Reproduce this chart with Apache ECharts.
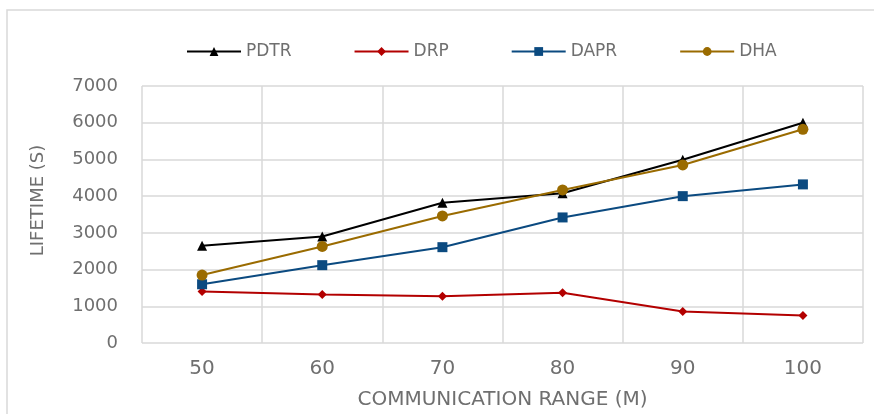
<!DOCTYPE html>
<html>
<head>
<meta charset="utf-8">
<script src="https://cdn.jsdelivr.net/npm/echarts@6/dist/echarts.min.js"></script>
<style>
html,body{margin:0;padding:0;background:#fff;}
#chart{width:874px;height:414px;}
</style>
</head>
<body>
<div id="chart"></div>
<script>
const categories = ['50', '60', '70', '80', '90', '100'];
const seriesNames = ['PDTR', 'DRP', 'DAPR', 'DHA'];
const pdtr = [2650, 2900, 3820, 4080, 4990, 6000];
const drp = [1400, 1320, 1270, 1370, 860, 750];
const dapr = [1600, 2120, 2610, 3420, 4000, 4320];
const dha = [1850, 2630, 3460, 4170, 4850, 5820];
const yTicks = [0, 1000, 2000, 3000, 4000, 5000, 6000, 7000];
const xTitle = 'COMMUNICATION RANGE (M)';
const yTitle = 'LIFETIME (S)';

const colors = ['#000000', '#b30000', '#0b4a80', '#9a6b00'];
const symbols = ['triangle', 'diamond', 'rect', 'circle'];
const symbolSizes = [10, 9, 10, 11];
const values = [pdtr, drp, dapr, dha];

const font = 'DejaVu Sans';
const gray = '#6f6f6f';

const chart = echarts.init(document.getElementById('chart'));
chart.setOption({
  animation: false,
  backgroundColor: '#fff',
  graphic: [{
    type: 'rect',
    shape: {x: 7, y: 10, width: 900, height: 500},
    style: {fill: 'none', stroke: '#d9d9d9', lineWidth: 1.5},
    silent: true, z: -10
  }],
  legend: {
    left: 181,
    top: 38,
    itemWidth: 54,
    itemHeight: 11,
    itemGap: 62,
    textStyle: {fontFamily: font, fontSize: 17, color: gray},
    data: seriesNames
  },
  grid: {left: 142, right: 11, top: 86, bottom: 71, containLabel: false, outerBoundsMode: 'none'},
  xAxis: {
    type: 'category',
    data: categories,
    boundaryGap: true,
    name: xTitle,
    nameLocation: 'middle',
    nameGap: 47,
    nameTextStyle: {fontFamily: font, fontSize: 20, color: gray},
    axisLine: {show: false},
    axisTick: {show: false},
    axisLabel: {fontFamily: font, fontSize: 20, color: gray, margin: 16},
    splitLine: {show: true, lineStyle: {color: '#d9d9d9', width: 1.5}}
  },
  yAxis: {
    type: 'value',
    min: 0,
    max: 7000,
    interval: 1000,
    name: yTitle,
    nameLocation: 'middle',
    nameGap: 95,
    nameRotate: 90,
    nameTextStyle: {fontFamily: font, fontSize: 18, color: gray, padding: [0, 0, 0, 28]},
    axisLine: {show: false},
    axisTick: {show: false},
    axisLabel: {fontFamily: font, fontSize: 18, color: gray, margin: 24,
      formatter: function (v) { return yTicks.indexOf(v) >= 0 ? String(v) : ''; }},
    splitLine: {show: true, lineStyle: {color: '#d9d9d9', width: 1.5}}
  },
  series: seriesNames.map(function (name, i) {
    return {
      name: name,
      type: 'line',
      data: values[i],
      color: colors[i],
      symbol: symbols[i],
      symbolSize: symbolSizes[i],
      lineStyle: {width: 2, color: colors[i]},
      itemStyle: {color: colors[i]}
    };
  })
});
</script>
</body>
</html>
